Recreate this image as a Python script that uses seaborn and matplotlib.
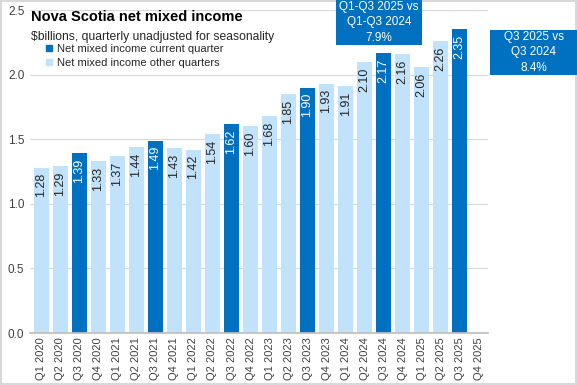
"""
Nova Scotia net mixed income, quarterly bars (current quarter highlighted).
Writes out.png (577x385).
"""

import numpy as np
import pandas as pd
import matplotlib.pyplot as plt
import seaborn as sns
from matplotlib.lines import Line2D
from matplotlib.patches import Rectangle

# --- DATA ---
QUARTERS = [f"Q{q} {y}" for y in range(2020, 2026) for q in range(1, 5)]
VALUES = [1.28, 1.29, 1.39, 1.33,
          1.37, 1.44, 1.49, 1.43,
          1.42, 1.54, 1.62, 1.60,
          1.68, 1.85, 1.90, 1.93,
          1.91, 2.10, 2.17, 2.16,
          2.06, 2.26, 2.35, np.nan]
CURRENT = "Net mixed income current quarter"
OTHER = "Net mixed income other quarters"
KINDS = [CURRENT if q.startswith("Q3") else OTHER for q in QUARTERS]
BOX_YTD = "Q1-Q3 2025 vs\nQ1-Q3 2024\n7.9%"
BOX_Q3 = "Q3 2025 vs\nQ3 2024\n8.4%"

# --- STYLE ---
DARK = "#0070C0"
LIGHT = "#C0E2FA"
GRID = "#D9D9D9"
FONT = ["Liberation Sans", "DejaVu Sans"]

sns.set_theme(style="white")
plt.rcParams["font.family"] = FONT

df = pd.DataFrame({"Quarter": QUARTERS, "Value": VALUES, "Kind": KINDS})

fig = plt.figure(figsize=(5.77, 3.85), dpi=100)
fig.patch.set_edgecolor("#D9D9D9")
fig.patch.set_linewidth(1.5)
ax = fig.add_axes([0.052, 0.135, 0.794, 0.839])

sns.barplot(data=df, x="Quarter", y="Value", hue="Kind", order=QUARTERS,
            palette={CURRENT: DARK, OTHER: LIGHT}, dodge=False, width=0.8,
            saturation=1, linewidth=0, legend=False, ax=ax, zorder=2)

ax.set_ylim(0, 2.5)
ax.set_xlim(-0.6, len(QUARTERS) - 0.5)
ax.set_yticks(np.arange(0, 2.51, 0.5))
ax.set_yticklabels([f"{v:.1f}" for v in np.arange(0, 2.51, 0.5)])
ax.yaxis.grid(True, color=GRID, linewidth=0.8, zorder=0)
ax.set_axisbelow(True)
ax.set_xlabel("")
ax.set_ylabel("")
ax.tick_params(axis="x", rotation=90, labelsize=8, length=0, pad=3, colors="#404040")
ax.tick_params(axis="y", labelsize=8.5, length=0, pad=4, colors="#404040")
for side in ["left", "right", "top"]:
    ax.spines[side].set_visible(False)
ax.spines["bottom"].set_color("#BFBFBF")

# value labels inside the bar tops
for i, (v, k) in enumerate(zip(VALUES, KINDS)):
    if np.isnan(v):
        continue
    ax.annotate(f"{v:.2f}", (i, v), xytext=(0, -4), textcoords="offset points",
                rotation=90, ha="center", va="top", fontsize=9,
                color="white" if k == CURRENT else "#262626", zorder=4)

# title block
fig.text(0.054, 0.955, "Nova Scotia net mixed income", fontsize=10.5,
         weight="bold", color="black", va="center")
fig.text(0.054, 0.903, "$billions, quarterly unadjusted for seasonality",
         fontsize=8.7, color="#262626", va="center")

handles = [Line2D([], [], marker="s", linestyle="", markersize=5,
                  markerfacecolor=c, markeredgecolor=c) for c in (DARK, LIGHT)]
fig.legend(handles, [CURRENT, OTHER], loc="upper left",
           bbox_to_anchor=(0.077, 0.885), frameon=False, fontsize=8,
           handlelength=0.8, handletextpad=0.35, labelspacing=0.3,
           borderaxespad=0, borderpad=0, labelcolor="#262626")

# callout boxes
for (x0, y0, w, h, txt) in [(336, 0, 86, 45, BOX_YTD), (490, 30, 87, 45, BOX_Q3)]:
    fig.patches.append(Rectangle((x0 / 577, 1 - (y0 + h) / 385), w / 577, h / 385,
                                 transform=fig.transFigure, facecolor=DARK,
                                 edgecolor="none", zorder=5))
    fig.text((x0 + w / 2) / 577, 1 - (y0 + h / 2) / 385, txt, ha="center",
             va="center", color="white", fontsize=8.5, linespacing=1.35, zorder=6)

plt.savefig("out.png", dpi=100)
